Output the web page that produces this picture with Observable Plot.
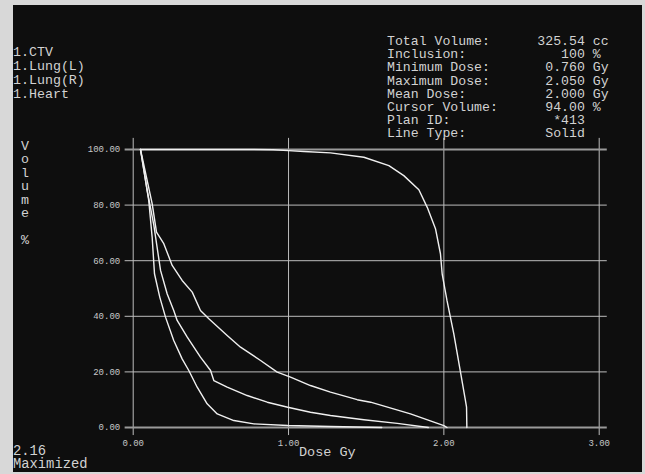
<!DOCTYPE html>
<html><head><meta charset="utf-8">
<script src="https://cdn.jsdelivr.net/npm/d3@7"></script>
<script src="https://cdn.jsdelivr.net/npm/@observablehq/plot@0.6"></script>
<style>
body{margin:0;background:#d8d8d8;}
#wrap{position:relative;width:645px;height:474px;background:#d8d8d8;overflow:hidden;}
#panel{position:absolute;left:13px;top:5px;width:629px;height:467px;background:#0e0e0e;}
#chart{position:absolute;left:0;top:0;}
.t{position:absolute;margin:0;font-family:"Liberation Mono",monospace;color:#d2d2d2;white-space:pre;}
</style></head><body>
<div id="wrap">
<div id="panel"></div>
<div id="chart"></div>
<pre class="t" id="legend" style="left:13px;top:46px;font-size:13.3px;line-height:14px"></pre>
<pre class="t" id="info" style="left:387px;top:35px;font-size:13.2px;line-height:13.2px"></pre>
<pre class="t" id="ylab" style="left:21px;top:140px;font-size:13.3px;line-height:13.4px"></pre>
<pre class="t" id="xlab" style="left:299px;top:446px;font-size:13.5px;line-height:14px"></pre>
<pre class="t" id="foot" style="left:13px;top:445px;font-size:13.8px;line-height:13.4px"></pre>
</div>
<script>
// ---- data ----
const structures = ["1.CTV", "1.Lung(L)", "1.Lung(R)", "1.Heart"];
const infoLabels = ["Total Volume:", "Inclusion:", "Minimum Dose:", "Maximum Dose:", "Mean Dose:", "Cursor Volume:", "Plan ID:", "Line Type:"];
const infoValues = ["325.54", "100", "0.760", "2.050", "2.000", "94.00", "*413", "Solid"];
const infoUnits  = ["cc", "%", "Gy", "Gy", "Gy", "%", "", ""];
const xTicks = [0, 1, 2, 3];
const yTicks = [0, 20, 40, 60, 80, 100];
const xTitle = "Dose Gy";
const yTitle = "Volume %";
const footer = ["2.16", "Maximized"];

const ctvDose = [0.047, 0.76, 0.9, 1.0, 1.1, 1.27, 1.485, 1.646, 1.742, 1.839, 1.893, 1.946, 1.978, 1.989, 2.02, 2.064, 2.107, 2.139, 2.146, 2.148];
const ctvVol  = [100, 100, 99.9, 99.6, 99.3, 98.8, 97.2, 94.2, 90.6, 85.5, 79.2, 71.5, 62.5, 55.3, 45.7, 33.7, 19.9, 9.7, 7.3, 0];
const heartDose = [0.047, 0.122, 0.150, 0.197, 0.251, 0.315, 0.380, 0.433, 0.487, 0.605, 0.691, 0.82, 0.927, 1.013, 1.141, 1.27, 1.442, 1.528, 1.785, 2.0, 2.02];
const heartVol  = [100, 80.5, 70.3, 66.1, 58.3, 52.9, 48.7, 42.1, 39.1, 33.1, 28.9, 24.1, 19.9, 18.1, 15.1, 12.7, 10.0, 9.1, 4.9, 0.7, 0];
const lungRDose = [0.047, 0.09, 0.133, 0.176, 0.219, 0.261, 0.283, 0.348, 0.433, 0.498, 0.519, 0.605, 0.734, 0.863, 0.995, 1.141, 1.27, 1.485, 1.7, 1.9];
const lungRVol  = [100, 85.3, 72.7, 56.5, 48.0, 42.1, 38.5, 32.5, 25.3, 20.5, 16.9, 14.5, 11.5, 9.1, 7.3, 5.5, 4.3, 2.8, 1.5, 0];
const lungLDose = [0.047, 0.1, 0.122, 0.137, 0.171, 0.208, 0.261, 0.315, 0.358, 0.412, 0.476, 0.541, 0.648, 0.777, 0.995, 1.27, 1.6];
const lungLVol  = [100, 81.7, 68.5, 55.3, 46.9, 39.7, 31.3, 24.7, 20.5, 14.5, 8.5, 4.9, 2.5, 1.3, 0.7, 0.36, 0];

// ---- build ----
const series = [
  {name: structures[0], dose: ctvDose, vol: ctvVol},
  {name: structures[1], dose: lungLDose, vol: lungLVol},
  {name: structures[2], dose: lungRDose, vol: lungRVol},
  {name: structures[3], dose: heartDose, vol: heartVol}
];
const rows = series.flatMap(s => s.dose.map((d, i) => ({name: s.name, dose: d, vol: s.vol[i]})));

document.getElementById("legend").textContent = structures.join("\n");
document.getElementById("info").textContent = infoLabels.map((l, i) =>
  l.padEnd(19) + infoValues[i].padStart(6) + (infoUnits[i] ? " " + infoUnits[i] : "")).join("\n");
document.getElementById("ylab").textContent = yTitle.replace(" ", "\n").split("").join("\n").replace("\n\n\n", "\n\n");
document.getElementById("xlab").textContent = xTitle;
document.getElementById("foot").textContent = footer.join("\n");

const innerY = yTicks.filter(v => v !== 0 && v !== 100);
const edgeY = yTicks.filter(v => v === 0 || v === 100);

const chart = Plot.plot({
  width: 645, height: 474,
  marginLeft: 132.7, marginRight: 46.3, marginTop: 149, marginBottom: 47,
  style: {background: "transparent", color: "#c8c8c8", fontFamily: "'Liberation Mono', monospace", fontSize: "9px"},
  x: {domain: [0, 3]},
  y: {domain: [0, 100]},
  marks: [
    Plot.ruleY(innerY, {x1: -0.052, x2: 3.052, stroke: "#bdbdbd", strokeWidth: 1}),
    Plot.ruleX(xTicks, {y1: -2.9, y2: 104, stroke: "#bdbdbd", strokeWidth: 1}),
    Plot.ruleY(edgeY, {x1: -0.052, x2: 3.052, stroke: "#9a9a9a", strokeWidth: 2}),
    Plot.line(rows, {x: "dose", y: "vol", z: "name", stroke: "#f0f0f0", strokeWidth: 1.4, curve: "linear"}),
    Plot.axisY(yTicks, {tickSize: 0, tickPadding: 13, tickFormat: d3.format(".2f"), label: null, fill: "#c8c8c8"}),
    Plot.axisX(xTicks, {tickSize: 0, tickPadding: 12, tickFormat: d3.format(".2f"), label: null, fill: "#c8c8c8"})
  ]
});
document.getElementById("chart").appendChild(chart);
</script>
</body></html>
